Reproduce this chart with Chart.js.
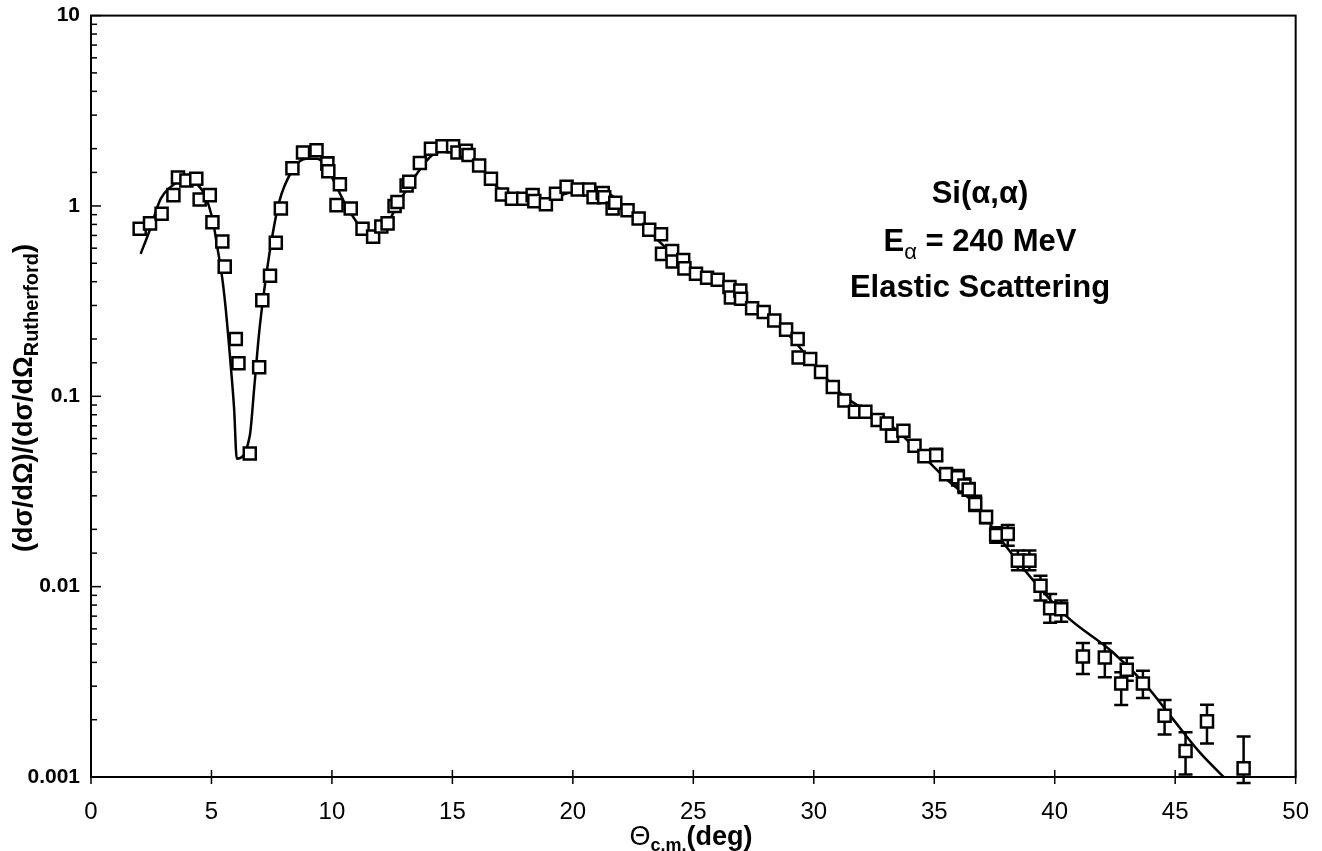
<!DOCTYPE html>
<html>
<head>
<meta charset="utf-8">
<script src="https://cdn.jsdelivr.net/npm/chart.js@4.4.1/dist/chart.umd.min.js"></script>
<style>
  html, body { margin: 0; padding: 0; background: #fff; }
  #wrap { width: 1322px; height: 851px; }
</style>
</head>
<body>
<div id="wrap"><canvas id="chart" width="1322" height="851"></canvas></div>
<script>
const expTheta = [
  2.02, 2.45, 2.93, 3.42, 3.61, 3.96, 4.37, 4.51, 4.93, 5.04,
  5.45, 5.55, 6.01, 6.12, 6.59, 6.98, 7.11, 7.43, 7.67, 7.88,
  8.36, 8.80, 9.36, 9.81, 9.85, 10.19, 10.33, 10.78, 11.27, 11.71,
  12.05, 12.31, 12.6, 12.72, 13.1, 13.21, 13.65, 14.11, 14.59, 15.03,
  15.21, 15.56, 15.67, 16.11, 16.6, 17.06, 17.47, 17.94, 18.33, 18.4,
  18.88, 19.3, 19.74, 20.2, 20.68, 20.86, 21.24, 21.3, 21.65, 21.76,
  22.27, 22.73, 23.17, 23.66, 23.7, 24.12, 24.14, 24.58, 24.63, 25.11,
  25.57, 26.01, 26.5, 26.56, 26.95, 26.98, 27.44, 27.92, 28.36, 28.85,
  29.33, 29.37, 29.85, 30.3, 30.79, 31.27, 31.71, 32.14, 32.65, 33.03,
  33.25, 33.72, 34.18, 34.59, 35.08, 35.49, 35.98, 36.25, 36.43, 36.7,
  37.15, 37.57, 38.05, 38.47, 38.95, 39.41, 39.81, 40.27, 41.17, 42.08,
  42.76, 42.99, 43.66, 44.56, 45.43, 46.32, 47.84
];
const expRatio = [
  0.76, 0.81, 0.91, 1.14, 1.41, 1.36, 1.39, 1.08, 1.14, 0.82,
  0.65, 0.48, 0.20, 0.149, 0.050, 0.142, 0.32, 0.43, 0.64, 0.97,
  1.58, 1.91, 1.96, 1.67, 1.52, 1.01, 1.30, 0.97, 0.76, 0.69,
  0.78, 0.81, 1.0, 1.05, 1.28, 1.34, 1.68, 2.0, 2.06, 2.06,
  1.91, 1.95, 1.85, 1.63, 1.39, 1.15, 1.09, 1.09, 1.14, 1.06,
  1.02, 1.16, 1.26, 1.22, 1.22, 1.11, 1.17, 1.11, 0.97, 1.04,
  0.95, 0.86, 0.75, 0.71, 0.56, 0.58, 0.51, 0.52, 0.47, 0.44,
  0.42, 0.41, 0.375, 0.33, 0.36, 0.325, 0.29, 0.277, 0.25, 0.224,
  0.20, 0.16, 0.157, 0.134, 0.112, 0.095, 0.083, 0.083, 0.075, 0.072,
  0.062, 0.066, 0.055, 0.0485, 0.049, 0.039, 0.0376, 0.034, 0.0324, 0.0272,
  0.0232, 0.0187, 0.0189, 0.0137, 0.0137, 0.0101, 0.0077, 0.0076, 0.0043, 0.00425,
  0.0031, 0.00366, 0.0031, 0.0021, 0.00137, 0.00196, 0.00111
];

// Error bars (only where visible)
const errTheta = [
  9.81, 35.08, 35.49, 35.98, 36.25, 36.43, 36.7, 37.15, 37.57, 38.05,
  38.47, 38.95, 39.41, 39.81, 40.27, 41.17, 42.08, 42.76, 42.99, 43.66,
  44.56, 45.43, 46.32, 47.84
];
const errLow = [
  1.55, 0.046, 0.037, 0.034, 0.031, 0.030, 0.025, 0.0215, 0.017, 0.0164,
  0.0122, 0.0122, 0.00845, 0.00646, 0.00655, 0.00348, 0.00334, 0.00239, 0.0032, 0.0026,
  0.00167, 0.00103, 0.0015, 0.00093
];
const errHigh = [
  1.80, 0.053, 0.042, 0.041, 0.037, 0.035, 0.030, 0.025, 0.0205, 0.0211,
  0.0155, 0.0155, 0.0114, 0.00916, 0.00845, 0.00506, 0.00505, 0.00355, 0.00423, 0.00362,
  0.00254, 0.00172, 0.0024, 0.00163
];

// Optical model curve
const fitTheta = [
  2.06, 2.41, 2.89, 3.31, 3.79, 4.35, 4.69, 5.04, 5.25, 5.45,
  5.59, 5.8, 5.94, 6.05, 6.59, 6.77, 6.98, 7.18, 7.46, 7.81,
  8.36, 8.92, 9.4, 9.95, 10.51, 11.13, 11.68, 12.24, 12.79, 13.48,
  14.17, 14.87, 15.56, 16.25, 16.8, 17.4, 18.2, 19.0, 19.8, 20.6,
  21.37, 22.0, 22.62, 23.59, 24.69, 26.08, 27.19, 28.57, 29.95, 31.06,
  32.17, 33.28, 34.11, 35.49, 36.74, 37.85, 38.95, 40.48, 42.41, 43.8,
  44.9, 46.01, 47.3
];
const fitRatio = [
  0.56, 0.73, 1.09, 1.26, 1.36, 1.31, 1.16, 0.86, 0.60, 0.415,
  0.29, 0.145, 0.086, 0.047, 0.062, 0.109, 0.217, 0.353, 0.62, 1.05,
  1.54, 1.77, 1.77, 1.45, 1.05, 0.79, 0.70, 0.79, 1.05, 1.45,
  1.85, 1.96, 1.85, 1.57, 1.28, 1.12, 1.07, 1.08, 1.17, 1.2,
  1.18, 1.03, 0.89, 0.65, 0.49, 0.40, 0.31, 0.235, 0.151, 0.105,
  0.084, 0.069, 0.055, 0.0368, 0.0267, 0.0171, 0.0114, 0.0070, 0.00452, 0.00302,
  0.00202, 0.00135, 0.00092
];

const xTicks = [0, 5, 10, 15, 20, 25, 30, 35, 40, 45, 50];
const yMajor = [0.001, 0.01, 0.1, 1, 10];

const bold = (px) => 'bold ' + px + 'px "Liberation Sans", Arial, sans-serif';
const plain = (px) => px + 'px "Liberation Sans", Arial, sans-serif';

// draws a line of mixed-size text centred on (x, baseline y)
function drawRich(ctx, parts, x, y, rot) {
  ctx.save();
  ctx.translate(x, y);
  ctx.rotate(rot || 0);
  ctx.textAlign = 'left';
  ctx.textBaseline = 'alphabetic';
  ctx.fillStyle = '#000';
  let w = 0;
  parts.forEach(p => { ctx.font = p[1]; w += ctx.measureText(p[0]).width; });
  let cx = -w / 2;
  parts.forEach(p => {
    ctx.font = p[1];
    ctx.fillText(p[0], cx, p[2]);
    cx += ctx.measureText(p[0]).width;
  });
  ctx.restore();
}

const errorBars = {
  id: 'errorBars',
  beforeDatasetsDraw(chart) {
    const { ctx, scales: { x, y } } = chart;
    ctx.save();
    ctx.strokeStyle = '#000';
    ctx.lineWidth = 2.5;
    errTheta.forEach((t, i) => {
      const px = x.getPixelForValue(t);
      const lo = y.getPixelForValue(errLow[i]);
      const hi = y.getPixelForValue(errHigh[i]);
      ctx.beginPath();
      ctx.moveTo(px, lo); ctx.lineTo(px, hi);
      ctx.moveTo(px - 7, lo); ctx.lineTo(px + 7, lo);
      ctx.moveTo(px - 7, hi); ctx.lineTo(px + 7, hi);
      ctx.stroke();
    });
    ctx.restore();
  }
};

const frameAndText = {
  id: 'frameAndText',
  afterDraw(chart) {
    const { ctx, chartArea: a, scales: { x, y } } = chart;
    ctx.save();
    ctx.strokeStyle = '#000';
    ctx.lineWidth = 2;
    ctx.strokeRect(a.left, a.top, a.right - a.left, a.bottom - a.top);

    // y ticks, pointing inward
    ctx.lineWidth = 1.5;
    y.ticks.forEach(t => {
      const py = y.getPixelForValue(t.value);
      const major = yMajor.includes(t.value);
      ctx.beginPath();
      ctx.moveTo(a.left, py);
      ctx.lineTo(a.left + (major ? 10 : 6), py);
      ctx.stroke();
    });
    // x ticks, crossing the axis
    xTicks.forEach(v => {
      const px = x.getPixelForValue(v);
      ctx.beginPath();
      ctx.moveTo(px, a.bottom - 7);
      ctx.lineTo(px, a.bottom + 7);
      ctx.stroke();
    });
    ctx.restore();

    // axis titles
    drawRich(ctx, [
      ['\u0398', plain(27), 0],
      ['c.m.', bold(18), 6],
      ['(deg)', bold(27), 0]
    ], 691, 845);
    drawRich(ctx, [
      ['(d\u03c3/d\u03a9)/(d\u03c3/d\u03a9', bold(27), 0],
      ['Rutherford', bold(20), 6],
      [')', bold(27), 0]
    ], 32, 398, -Math.PI / 2);

    // annotation
    drawRich(ctx, [['Si(\u03b1,\u03b1)', bold(31), 0]], 980, 203);
    drawRich(ctx, [
      ['E', bold(31), 0],
      ['\u03b1', plain(22), 8],
      [' = 240 MeV', bold(31), 0]
    ], 980, 251);
    drawRich(ctx, [['Elastic Scattering', bold(31), 0]], 980, 297);
  }
};

new Chart(document.getElementById('chart'), {
  type: 'scatter',
  data: {
    datasets: [
      {
        label: 'fit',
        data: fitTheta.map((t, i) => ({ x: t, y: fitRatio[i] })),
        showLine: true,
        borderColor: '#000',
        borderWidth: 2.5,
        pointRadius: 0,
        cubicInterpolationMode: 'monotone',
        order: 2
      },
      {
        label: 'data',
        data: expTheta.map((t, i) => ({ x: t, y: expRatio[i] })),
        showLine: false,
        pointStyle: 'rect',
        pointRadius: 8.5,
        pointBorderWidth: 2.5,
        pointBorderColor: '#000',
        pointBackgroundColor: '#fff',
        order: 1
      }
    ]
  },
  options: {
    responsive: false,
    animation: false,
    layout: { padding: { top: 10, right: 20, left: 0, bottom: 0 } },
    plugins: {
      legend: { display: false },
      tooltip: { enabled: false }
    },
    scales: {
      x: {
        type: 'linear',
        min: 0,
        max: 50,
        afterFit: (s) => { s.height = 74; },
        grid: { display: false },
        border: { display: false },
        ticks: {
          stepSize: 5,
          color: '#000',
          padding: 13,
          font: { family: '"Liberation Sans", Arial, sans-serif', size: 24 },
          maxRotation: 0
        }
      },
      y: {
        type: 'logarithmic',
        min: 0.001,
        max: 10,
        afterFit: (s) => { s.width = 91; },
        grid: { display: false },
        border: { display: false },
        ticks: {
          autoSkip: false,
          color: '#000',
          padding: 3,
          font: { family: '"Liberation Sans", Arial, sans-serif', size: 21, weight: 'bold' },
          callback: (v) => yMajor.includes(v) ? String(v) : ''
        }
      }
    }
  },
  plugins: [errorBars, frameAndText]
});
</script>
</body>
</html>
